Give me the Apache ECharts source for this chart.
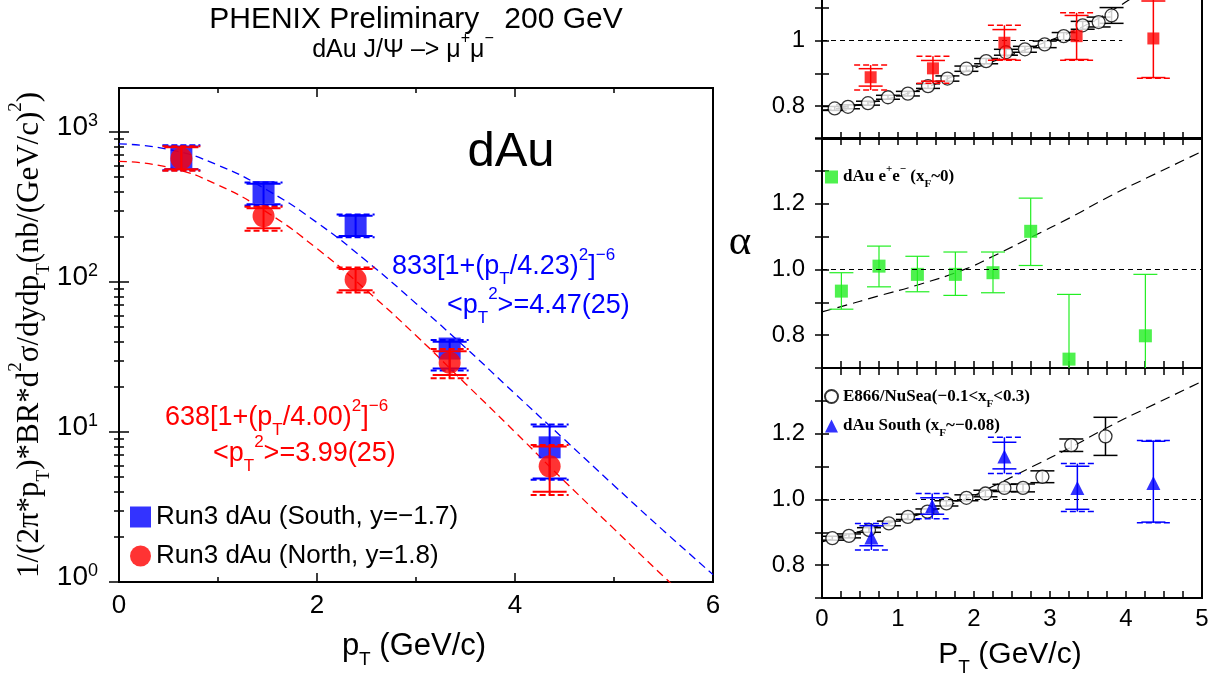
<!DOCTYPE html>
<html>
<head>
<meta charset="utf-8">
<script src="https://cdn.jsdelivr.net/npm/echarts@6/dist/echarts.min.js"></script>
<style>
  html, body { margin: 0; background: #fff; }
  #chart { width: 1215px; height: 679px; }
</style>
</head>
<body>
<div id="chart"></div>
<script>
const SANS = '"Liberation Sans", Arial, Helvetica, sans-serif'
const SERIF = '"Liberation Serif", "Times New Roman", serif'
const BLUE = "#0000ff"
const RED = "#ff0000"
const GREEN = "#22ee22"
const BLACK = "#000000"

// ---- left panel: J/psi yield vs pT ----
const SOUTH_NAME = "Run3 dAu (South, y=−1.7)"
const NORTH_NAME = "Run3 dAu (North, y=1.8)"
const SOUTH_PT = [0.63, 1.46, 2.39, 3.34, 4.35]
const SOUTH_YIELD = [680, 398, 240, 36, 7.9]
const SOUTH_STAT_HI = [800, 452, 277, 40, 10.9]
const SOUTH_STAT_LO = [565, 330, 203, 26.5, 4.9]
const SOUTH_SYS_HI = [815, 460, 282, 41, 11.2]
const SOUTH_SYS_LO = [555, 323, 199, 25.7, 4.8]

const NORTH_PT = [0.63, 1.46, 2.39, 3.34, 4.35]
const NORTH_YIELD = [665, 275, 104, 29, 5.9]
const NORTH_STAT_HI = [790, 310, 122, 34.5, 8.0]
const NORTH_STAT_LO = [565, 228, 88, 24, 4.0]
const NORTH_SYS_HI = [805, 318, 125, 35.7, 8.2]
const NORTH_SYS_LO = [552, 220, 85, 22.8, 3.8]

// dashed fit curves
const FIT_PT = [0, 0.5, 1, 1.5, 2, 2.5, 3, 3.5, 4, 4.5, 5, 5.5, 6]
const SOUTH_FIT = [833, 766, 601, 409, 249, 138, 72, 36.5, 18, 8.9, 4.4, 2.2, 1.12]
const NORTH_FIT = [638, 581, 443, 290, 167, 88, 44, 21, 10, 4.7, 2.26, 1.09, 0.54]

const YIELD_MAX = 1965
const YIELD_LABELS = [1, 10, 100, 1000]
const YIELD_MINOR = YIELD_LABELS.flatMap(d => [2, 3, 4, 5, 6, 7, 8, 9].map(k => k * d)).filter(v => v < YIELD_MAX)
const PT_LABELS_LEFT = [0, 2, 4, 6]

// ---- right panels: alpha vs pT ----
// top panel (cut off at top of figure)
const E866_A_PT = [0.167, 0.342, 0.605, 0.868, 1.13, 1.395, 1.65, 1.90, 2.16, 2.42, 2.67, 2.93, 3.18, 3.43, 3.64, 3.81]
const E866_A = [0.793, 0.798, 0.809, 0.827, 0.838, 0.861, 0.884, 0.914, 0.937, 0.964, 0.973, 0.988, 1.013, 1.046, 1.056, 1.076]
const E866_A_ERR = [0.006, 0.006, 0.006, 0.006, 0.007, 0.007, 0.008, 0.008, 0.008, 0.009, 0.009, 0.010, 0.011, 0.012, 0.015, 0.024]
const NORTH_A_PT = [0.64, 1.46, 2.40, 3.35, 4.36]
const NORTH_A = [0.888, 0.915, 0.993, 1.013, 1.006]
const NORTH_A_STAT_HI = [0.914, 0.939, 1.033, 1.076, 1.12]
const NORTH_A_STAT_LO = [0.861, 0.876, 0.942, 0.942, 0.887]
const NORTH_A_SYS_HI = [0.925, 0.952, 1.046, 1.084, 1.125]
const NORTH_A_SYS_LO = [0.849, 0.870, 0.940, 0.940, 0.885]
const FIT_A_PT = [0, 1, 2, 3, 3.5, 4.05]
const FIT_A = [0.788, 0.83, 0.915, 1.0, 1.05, 1.125]
const UNITY_A_END = 3.95

// middle panel
const EE_NAME = "dAu e+e- (xF~0)"
const EE_PT = [0.255, 0.75, 1.255, 1.755, 2.25, 2.746, 3.25, 4.255]
const EE_ALPHA = [0.934, 1.010, 0.985, 0.985, 0.990, 1.116, 0.727, 0.798]
const EE_HI = [0.990, 1.071, 1.040, 1.053, 1.053, 1.217, 0.924, 0.985]
const EE_LO = [0.879, 0.947, 0.932, 0.921, 0.929, 1.012, 0.53, 0.61]
const FIT_B_PT = [0, 0.24, 0.74, 1.25, 1.875, 2.25, 2.77, 3.26, 3.78, 4.27, 5]
const FIT_B = [0.871, 0.886, 0.919, 0.952, 1.0, 1.04, 1.10, 1.157, 1.222, 1.278, 1.359]

// bottom panel
const E866_NAME = "E866/NuSea(-0.1<xF<0.3)"
const E866_B_PT = [0.136, 0.355, 0.618, 0.88, 1.13, 1.387, 1.637, 1.90, 2.15, 2.40, 2.645, 2.90, 3.28, 3.73]
const E866_B = [0.882, 0.889, 0.907, 0.927, 0.947, 0.963, 0.988, 1.005, 1.018, 1.035, 1.035, 1.069, 1.165, 1.192]
const E866_B_ERR = [0.006, 0.006, 0.007, 0.007, 0.008, 0.008, 0.008, 0.009, 0.010, 0.011, 0.012, 0.018, 0.019, 0.058]
const SOUTH_B_NAME = "dAu South (xF~-0.08)"
const SOUTH_B_PT = [0.65, 1.45, 2.40, 3.36, 4.36]
const SOUTH_B = [0.884, 0.98, 1.131, 1.035, 1.05]
const SOUTH_B_STAT_HI = [0.920, 1.005, 1.174, 1.101, 1.177]
const SOUTH_B_STAT_LO = [0.859, 0.955, 1.093, 0.970, 0.931]
const SOUTH_B_SYS_HI = [0.927, 1.018, 1.189, 1.109, 1.179]
const SOUTH_B_SYS_LO = [0.846, 0.941, 1.079, 0.963, 0.929]

const ALPHA_LABELS = [0.8, 1.0, 1.2]
const PT_LABELS_RIGHT = [0, 1, 2, 3, 4, 5]

// rich text styles with super/subscripts
function scripts(family, size, color, weight) {
  weight = weight || "normal"
  const small = Math.round(size * 0.62)
  const base = { fontFamily: family, fontWeight: weight, color: color, fill: color }
  return {
    a: Object.assign({}, base, { fontSize: size, lineHeight: Math.round(size * 1.5) }),
    sup: Object.assign({}, base, { fontSize: small, lineHeight: small, verticalAlign: "top" }),
    sub: Object.assign({}, base, { fontSize: small, lineHeight: small, verticalAlign: "bottom" }),
  }
}

function zip() {
  const cols = Array.from(arguments)
  return cols[0].map((_, i) => cols.map(c => c[i]))
}

function errorBars(color, cap, sysCap, width) {
  return function (params, api) {
    const x = api.value(0)
    const hi = api.coord([x, api.value(2)])
    const lo = api.coord([x, api.value(3)])
    const cx = hi[0]
    let top = hi[1]
    let bot = lo[1]
    const kids = []
    if (sysCap) {
      const sh = api.coord([x, api.value(4)])
      const sl = api.coord([x, api.value(5)])
      top = Math.min(top, sh[1])
      bot = Math.max(bot, sl[1])
      ;[sh[1], sl[1]].forEach(y => kids.push({
        type: "line",
        shape: { x1: cx - sysCap / 2, y1: y, x2: cx + sysCap / 2, y2: y },
        style: { stroke: color, lineWidth: width, lineDash: [6, 3] },
      }))
    }
    kids.push({ type: "line", shape: { x1: cx, y1: top, x2: cx, y2: bot }, style: { stroke: color, lineWidth: width } })
    ;[hi[1], lo[1]].forEach(y => kids.push({
      type: "line",
      shape: { x1: cx - cap / 2, y1: y, x2: cx + cap / 2, y2: y },
      style: { stroke: color, lineWidth: width },
    }))
    return { type: "group", children: kids }
  }
}

function errSeries(xi, yi, data, color, cap, sysCap, z, width) {
  return {
    type: "custom", xAxisIndex: xi, yAxisIndex: yi, data: data, clip: true, silent: true, z: z,
    encode: { x: 0, y: [2, 3] },
    renderItem: errorBars(color, cap, sysCap, width || 1.5),
  }
}

const TICK = { color: BLACK, width: 1.5 }

function xAx(grid, pos, extra) {
  return Object.assign({
    gridIndex: grid, type: "value", position: pos,
    axisLine: { show: false }, splitLine: { show: false },
    axisLabel: { show: false },
  }, extra)
}
function yAx(grid, pos, extra) {
  return Object.assign({
    gridIndex: grid, type: "value", position: pos, min: 0.7, max: 1.4, interval: 0.1,
    axisLine: { show: false }, splitLine: { show: false },
    axisTick: { inside: true, length: 7, lineStyle: TICK },
    axisLabel: { show: false },
  }, extra)
}

const rightX = (grid, pos, labels) => xAx(grid, pos, {
  min: 0, max: 5, interval: 0.25,
  axisTick: { inside: true, length: 7, lineStyle: TICK },
  axisLabel: labels ? {
    show: true, margin: 9, fontSize: 24, fontFamily: SANS, color: BLACK,
    formatter: v => (PT_LABELS_RIGHT.includes(v) ? String(v) : ""),
  } : { show: false },
})

const alphaLabel = fmt => ({
  show: true, margin: 17, fontSize: 24, fontFamily: SANS, color: BLACK,
  formatter: v => {
    const r = Math.round(v * 10) / 10
    return ALPHA_LABELS.includes(r) ? fmt(r) : ""
  },
})

const logAx = (pos, ticks, len, labels) => ({
  gridIndex: 0, type: "log", logBase: 10, min: 1, max: YIELD_MAX, position: pos,
  axisLine: { show: false }, splitLine: { show: false },
  axisTick: { inside: true, length: len, lineStyle: TICK, customValues: ticks },
  axisLabel: labels ? {
    show: true, margin: 21, customValues: YIELD_LABELS, padding: [0, 0, 10, 0],
    formatter: v => "{b|10}{s|" + Math.round(Math.log10(v)) + "}",
    rich: {
      b: { fontFamily: SANS, fontSize: 28, color: BLACK, lineHeight: 30 },
      s: { fontFamily: SANS, fontSize: 18, color: BLACK, lineHeight: 18, verticalAlign: "top" },
    },
  } : { show: false },
})

const unity = data => ({
  silent: true, symbol: "none", animation: false,
  label: { show: false },
  lineStyle: { color: BLACK, width: 1.2, type: [5, 4] },
  data: data,
})

const gridBox = { show: true, borderColor: BLACK, borderWidth: 2, backgroundColor: "transparent", outerBoundsMode: "none", containLabel: false }

const legendText = size => scripts(SERIF, size, BLACK, "bold")

const option = {
  animation: false,
  textStyle: { fontFamily: SANS },
  grid: [
    Object.assign({ left: 119, top: 88, width: 594, height: 494 }, gridBox),
    Object.assign({ left: 822, top: -91, width: 380, height: 230 }, gridBox),
    Object.assign({ left: 822, top: 138, width: 380, height: 230 }, gridBox),
    Object.assign({ left: 822, top: 368, width: 380, height: 230 }, gridBox),
  ],
  xAxis: [
    xAx(0, "bottom", {
      min: 0, max: 6, interval: 2,
      axisTick: { inside: true, length: 9, lineStyle: TICK },
      axisLabel: { show: true, margin: 11, fontSize: 26, fontFamily: SANS, color: BLACK,
        formatter: v => (PT_LABELS_LEFT.includes(v) ? String(v) : "") },
    }),
    xAx(0, "bottom", { min: 0, max: 6, interval: 1, axisTick: { inside: true, length: 5, lineStyle: TICK } }),
    xAx(0, "top", { min: 0, max: 6, interval: 2, axisTick: { inside: true, length: 9, lineStyle: TICK } }),
    xAx(0, "top", { min: 0, max: 6, interval: 1, axisTick: { inside: true, length: 5, lineStyle: TICK } }),
    rightX(1, "bottom", false),
    rightX(1, "top", false),
    rightX(2, "bottom", false),
    rightX(2, "top", false),
    rightX(3, "bottom", true),
    rightX(3, "top", false),
  ],
  yAxis: [
    logAx("left", YIELD_LABELS, 10, true),
    logAx("left", YIELD_MINOR, 5, false),
    logAx("right", YIELD_LABELS, 10, false),
    logAx("right", YIELD_MINOR, 5, false),
    yAx(1, "left", { axisLabel: alphaLabel(r => String(r)) }),
    yAx(1, "right"),
    yAx(2, "left", { axisLabel: alphaLabel(r => r.toFixed(1)) }),
    yAx(2, "right"),
    yAx(3, "left", { axisLabel: alphaLabel(r => r.toFixed(1)) }),
    yAx(3, "right"),
  ],
  legend: [
    {
      data: [SOUTH_NAME, NORTH_NAME], orient: "vertical", left: 130, top: 504, padding: 0,
      itemWidth: 21, itemHeight: 21, itemGap: 13, selectedMode: false,
      textStyle: { fontFamily: SANS, fontSize: 26, color: BLACK },
    },
    {
      data: [EE_NAME], left: 825, top: 164, padding: 0,
      itemWidth: 13, itemHeight: 13, selectedMode: false,
      textStyle: { fontFamily: SERIF, fontWeight: "bold", fontSize: 17, color: BLACK, rich: legendText(17) },
      formatter: () => "{a|dAu e}{sup|+}{a|e}{sup|−}{a| (x}{sub|F}{a|~0)}",
    },
    {
      data: [E866_NAME, SOUTH_B_NAME], orient: "vertical", left: 824, top: 388, padding: 0,
      itemWidth: 13, itemHeight: 13, itemGap: 8, selectedMode: false,
      textStyle: { fontFamily: SERIF, fontWeight: "bold", fontSize: 17, color: BLACK, rich: legendText(17) },
      formatter: n => (n === E866_NAME
        ? "{a|E866/NuSea(−0.1<x}{sub|F}{a|<0.3)}"
        : "{a|dAu South (x}{sub|F}{a|~−0.08)}"),
    },
  ],
  series: [
    // left panel
    { type: "line", xAxisIndex: 0, yAxisIndex: 0, data: zip(FIT_PT, SOUTH_FIT), smooth: true, showSymbol: false,
      symbol: "none", silent: true, lineStyle: { color: BLUE, width: 1.3, type: [8, 5] }, z: 2 },
    { type: "line", xAxisIndex: 0, yAxisIndex: 0, data: zip(FIT_PT, NORTH_FIT), smooth: true, showSymbol: false,
      symbol: "none", silent: true, lineStyle: { color: RED, width: 1.3, type: [8, 5] }, z: 2 },
    { type: "scatter", name: SOUTH_NAME, xAxisIndex: 0, yAxisIndex: 0, symbol: "rect", symbolSize: 22,
      itemStyle: { color: BLUE }, data: zip(SOUTH_PT, SOUTH_YIELD), z: 3 },
    errSeries(0, 0, zip(SOUTH_PT, SOUTH_YIELD, SOUTH_STAT_HI, SOUTH_STAT_LO, SOUTH_SYS_HI, SOUTH_SYS_LO), BLUE, 34, 38, 4, 2),
    { type: "scatter", name: NORTH_NAME, xAxisIndex: 0, yAxisIndex: 0, symbol: "circle", symbolSize: 22,
      itemStyle: { color: RED }, data: zip(NORTH_PT, NORTH_YIELD), z: 5 },
    errSeries(0, 0, zip(NORTH_PT, NORTH_YIELD, NORTH_STAT_HI, NORTH_STAT_LO, NORTH_SYS_HI, NORTH_SYS_LO), RED, 34, 38, 6, 2),

    // top right panel
    { type: "line", xAxisIndex: 4, yAxisIndex: 4, data: zip(FIT_A_PT, FIT_A), smooth: true, symbol: "none", silent: true,
      lineStyle: { color: BLACK, width: 1.2, type: [10, 6] }, z: 2,
      markLine: unity([[{ coord: [0, 1] }, { coord: [UNITY_A_END, 1] }]]) },
    errSeries(4, 4, zip(E866_A_PT, E866_A, E866_A.map((v, i) => v + E866_A_ERR[i]), E866_A.map((v, i) => v - E866_A_ERR[i])), BLACK, 24, 0, 3),
    { type: "scatter", xAxisIndex: 4, yAxisIndex: 4, symbol: "circle", symbolSize: 13,
      itemStyle: { color: "#fff", borderColor: BLACK, borderWidth: 1.3 }, data: zip(E866_A_PT, E866_A), z: 4 },
    errSeries(4, 4, zip(NORTH_A_PT, NORTH_A, NORTH_A_STAT_HI, NORTH_A_STAT_LO, NORTH_A_SYS_HI, NORTH_A_SYS_LO), RED, 24, 33, 5),
    { type: "scatter", xAxisIndex: 4, yAxisIndex: 4, symbol: "rect", symbolSize: 12,
      itemStyle: { color: RED }, data: zip(NORTH_A_PT, NORTH_A), z: 6 },

    // middle right panel
    { type: "line", xAxisIndex: 6, yAxisIndex: 6, data: zip(FIT_B_PT, FIT_B), smooth: true, symbol: "none", silent: true,
      lineStyle: { color: BLACK, width: 1.2, type: [10, 6] }, z: 2,
      markLine: unity([{ yAxis: 1 }]) },
    errSeries(6, 6, zip(EE_PT, EE_ALPHA, EE_HI, EE_LO), GREEN, 24, 0, 3, 1.2),
    { type: "scatter", name: EE_NAME, xAxisIndex: 6, yAxisIndex: 6, symbol: "rect", symbolSize: 13,
      itemStyle: { color: GREEN }, data: zip(EE_PT, EE_ALPHA), z: 4 },

    // bottom right panel
    { type: "line", xAxisIndex: 8, yAxisIndex: 8, data: zip(FIT_B_PT, FIT_B), smooth: true, symbol: "none", silent: true,
      lineStyle: { color: BLACK, width: 1.2, type: [10, 6] }, z: 2,
      markLine: unity([{ yAxis: 1 }]) },
    errSeries(8, 8, zip(E866_B_PT, E866_B, E866_B.map((v, i) => v + E866_B_ERR[i]), E866_B.map((v, i) => v - E866_B_ERR[i])), BLACK, 24, 0, 3),
    { type: "scatter", name: E866_NAME, xAxisIndex: 8, yAxisIndex: 8, symbol: "circle", symbolSize: 13,
      itemStyle: { color: "#fff", borderColor: BLACK, borderWidth: 1.3 }, data: zip(E866_B_PT, E866_B), z: 4 },
    errSeries(8, 8, zip(SOUTH_B_PT, SOUTH_B, SOUTH_B_STAT_HI, SOUTH_B_STAT_LO, SOUTH_B_SYS_HI, SOUTH_B_SYS_LO), BLUE, 24, 33, 5),
    { type: "scatter", name: SOUTH_B_NAME, xAxisIndex: 8, yAxisIndex: 8, symbol: "triangle", symbolSize: 14,
      itemStyle: { color: BLUE }, data: zip(SOUTH_B_PT, SOUTH_B), z: 6 },
  ],
  graphic: [
    { type: "text", x: 416, y: 20, style: { text: "PHENIX Preliminary   200 GeV", fontFamily: SANS, fontSize: 30, fill: BLACK,
      align: "center", verticalAlign: "middle", textAlign: "center", textVerticalAlign: "middle" } },
    { type: "text", x: 403, y: 50, style: { text: "{a|dAu J/Ψ –> μ}{sup|+}{a|μ}{sup|−}", rich: scripts(SANS, 25, BLACK),
      align: "center", verticalAlign: "middle", textAlign: "center", textVerticalAlign: "middle" } },
    { type: "text", x: 511, y: 152, style: { text: "dAu", fontFamily: SANS, fontSize: 49, fill: BLACK,
      align: "center", verticalAlign: "middle", textAlign: "center", textVerticalAlign: "middle" } },
    { type: "text", x: 392, y: 267, style: { text: "{a|833[1+(p}{sub|T}{a|/4.23)}{sup|2}{a|]}{sup|−6}", rich: scripts(SANS, 27, BLUE),
      align: "left", verticalAlign: "middle", textAlign: "left", textVerticalAlign: "middle" } },
    { type: "text", x: 447, y: 306, style: { text: "{a|<p}{sub|T}{sup|2}{a|>=4.47(25)}", rich: scripts(SANS, 27, BLUE),
      align: "left", verticalAlign: "middle", textAlign: "left", textVerticalAlign: "middle" } },
    { type: "text", x: 165, y: 418, style: { text: "{a|638[1+(p}{sub|T}{a|/4.00)}{sup|2}{a|]}{sup|−6}", rich: scripts(SANS, 27, RED),
      align: "left", verticalAlign: "middle", textAlign: "left", textVerticalAlign: "middle" } },
    { type: "text", x: 213, y: 454, style: { text: "{a|<p}{sub|T}{sup|2}{a|>=3.99(25)}", rich: scripts(SANS, 27, RED),
      align: "left", verticalAlign: "middle", textAlign: "left", textVerticalAlign: "middle" } },
    { type: "text", x: 30, y: 335, rotation: Math.PI / 2,
      style: { text: "{a|1/(2π*p}{sub|T}{a|)*BR*d}{sup|2}{a|σ/dydp}{sub|T}{a|(nb/(GeV/c)}{sup|2}{a|)}", rich: scripts(SERIF, 31, BLACK),
        align: "center", verticalAlign: "middle", textAlign: "center", textVerticalAlign: "middle" } },
    { type: "text", x: 414, y: 646, style: { text: "{a|p}{sub|T}{a| (GeV/c)}", rich: scripts(SANS, 31, BLACK),
      align: "center", verticalAlign: "middle", textAlign: "center", textVerticalAlign: "middle" } },
    { type: "text", x: 1010, y: 655, style: { text: "{a|P}{sub|T}{a| (GeV/c)}", rich: scripts(SANS, 30, BLACK),
      align: "center", verticalAlign: "middle", textAlign: "center", textVerticalAlign: "middle" } },
    { type: "text", x: 740, y: 243, style: { text: "α", fontFamily: SERIF, fontSize: 43, fill: BLACK,
      align: "center", verticalAlign: "middle", textAlign: "center", textVerticalAlign: "middle" } },
  ],
}

const chart = echarts.init(document.getElementById("chart"))
chart.setOption(option)
window.addEventListener("resize", () => chart.resize())
</script>
</body>
</html>
